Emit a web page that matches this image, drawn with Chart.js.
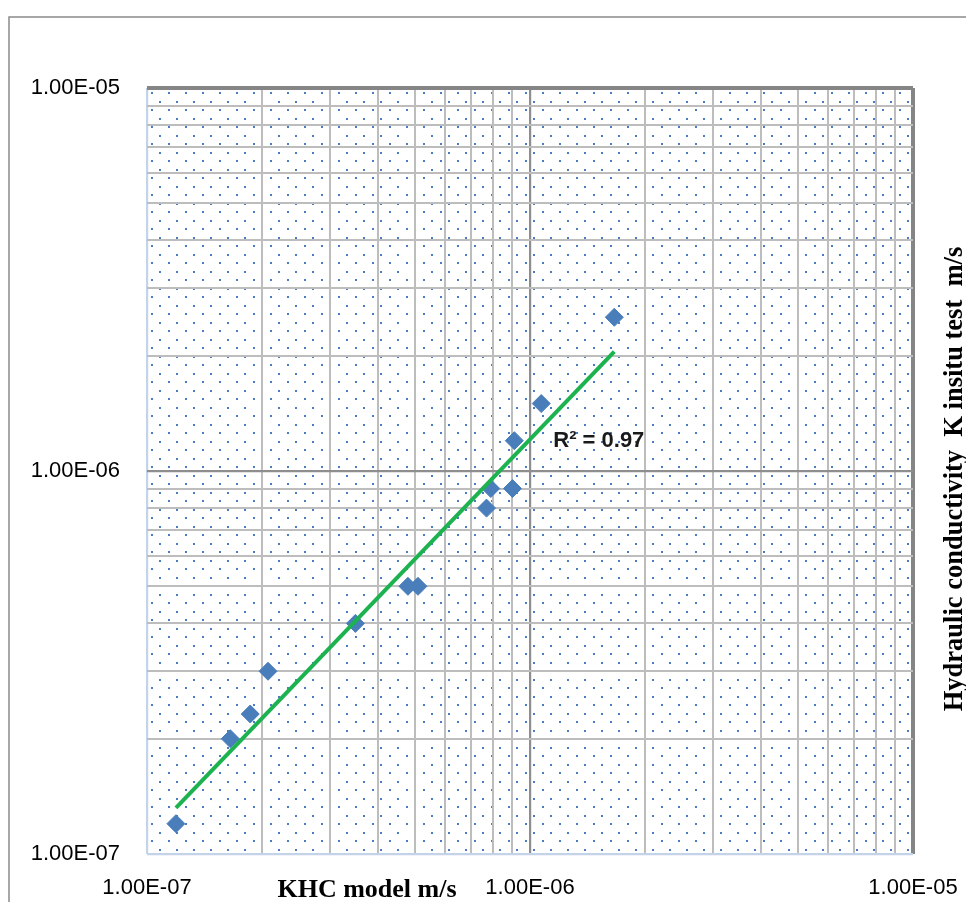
<!DOCTYPE html>
<html>
<head>
<meta charset="utf-8">
<title>KHC model vs K insitu test</title>
<script src="https://cdn.jsdelivr.net/npm/chart.js@4.4.1/dist/chart.umd.min.js"></script>
<style>
  html, body { margin: 0; padding: 0; background: #ffffff; }
  #wrap { position: relative; width: 966px; height: 902px; }
</style>
</head>
<body>
<div id="wrap">
  <canvas id="khcChart" width="966" height="902"></canvas>
</div>
<script>
// measured points: KHC model (x) vs K insitu test (y), m/s
const khcModel = [1.19e-7, 1.65e-7, 1.86e-7, 2.07e-7, 3.5e-7, 4.8e-7, 5.1e-7, 7.7e-7, 7.9e-7, 9.0e-7, 9.1e-7, 1.07e-6, 1.66e-6];
const kInsitu  = [1.2e-7, 2.0e-7, 2.32e-7, 3.0e-7, 4.0e-7, 5.0e-7, 5.0e-7, 8.0e-7, 9.0e-7, 9.0e-7, 1.2e-6, 1.5e-6, 2.52e-6];

// power trendline ends as drawn in the original
const trendX = [1.19e-7, 1.66e-6];
const trendY = [1.32e-7, 2.05e-6];
const r2Text = 'R\u00B2 = 0.97';
const r2Pos = {x: 1.15e-6, y: 1.2e-6};

// axes
const axisMin = 1e-7;
const axisMax = 1e-5;
const decadeTicks = [1e-7, 1e-6, 1e-5];
const decadeLabels = ['1.00E-07', '1.00E-06', '1.00E-05'];
const gridTicks = [
  1e-7, 2e-7, 3e-7, 4e-7, 5e-7, 6e-7, 7e-7, 8e-7, 9e-7,
  1e-6, 2e-6, 3e-6, 4e-6, 5e-6, 6e-6, 7e-6, 8e-6, 9e-6,
  1e-5
];
const xTitle = 'KHC model m/s';
const yTitle = 'Hydraulic conductivity  K insitu test  m/s';

const points = khcModel.map((v, i) => ({x: v, y: kInsitu[i]}));
const trend = trendX.map((v, i) => ({x: v, y: trendY[i]}));

function isDecade(v) {
  return decadeTicks.some(d => Math.abs(v - d) / d < 1e-6);
}
function decadeLabel(v) {
  const i = decadeTicks.findIndex(d => Math.abs(v - d) / d < 1e-6);
  return i >= 0 ? decadeLabels[i] : '';
}

// grid colours like the excel plot area: blue-ish low edge, dark top/right edge
function gridColor(ctx) {
  const v = ctx.tick ? ctx.tick.value : 0;
  if (Math.abs(v - axisMin) / axisMin < 1e-6) return '#c3d3ea';
  if (Math.abs(v - axisMax) / axisMax < 1e-6) return '#858585';
  if (isDecade(v)) return '#8e8e8e';
  return '#bdbdbd';
}
function gridWidth(ctx) {
  const v = ctx.tick ? ctx.tick.value : 0;
  if (Math.abs(v - axisMax) / axisMax < 1e-6) return 4;
  if (isDecade(v)) return 2.2;
  return 2;
}

function setTicks(scale) {
  scale.ticks = gridTicks.map(v => ({value: v, major: isDecade(v)}));
}

// dotted fill of the plot area
function makeDots(ctx) {
  const tile = document.createElement('canvas');
  tile.width = 17;
  tile.height = 17;
  const t = tile.getContext('2d');
  t.fillStyle = '#4a7cc6';
  t.fillRect(4, 4, 2, 2);
  t.fillRect(12, 13, 2, 2);
  return ctx.createPattern(tile, 'repeat');
}

const decorPlugin = {
  id: 'decor',
  beforeDraw(chart) {
    const {ctx, chartArea} = chart;
    ctx.save();
    ctx.fillStyle = '#ffffff';
    ctx.fillRect(0, 0, chart.width, chart.height);
    // outer frame, only left and top visible
    ctx.strokeStyle = '#8a8a8a';
    ctx.lineWidth = 1.5;
    ctx.beginPath();
    ctx.moveTo(9, chart.height + 2);
    ctx.lineTo(9, 17);
    ctx.lineTo(chart.width + 2, 17);
    ctx.stroke();
    // dots
    ctx.translate(chartArea.left, chartArea.top);
    ctx.fillStyle = makeDots(ctx);
    ctx.fillRect(0, 0, chartArea.right - chartArea.left, chartArea.bottom - chartArea.top);
    ctx.restore();
  },
  afterDraw(chart) {
    const {ctx, scales} = chart;
    ctx.save();
    ctx.fillStyle = '#000000';
    // x title sits on the tick label row
    ctx.font = 'bold 26px "Liberation Serif", "Times New Roman", serif';
    ctx.textAlign = 'center';
    ctx.textBaseline = 'alphabetic';
    ctx.fillText(xTitle, 367, 897);
    // y title on the right, reading upwards
    ctx.translate(955, 479);
    ctx.rotate(-Math.PI / 2);
    ctx.textBaseline = 'middle';
    ctx.font = 'bold 26.5px "Liberation Serif", "Times New Roman", serif';
    ctx.fillText(yTitle, 0, 0);
    ctx.restore();
    // R squared label
    ctx.save();
    ctx.fillStyle = '#1a1a1a';
    ctx.font = 'bold 22px "Liberation Sans", Arial, sans-serif';
    ctx.textAlign = 'left';
    ctx.textBaseline = 'middle';
    ctx.fillText(r2Text, scales.x.getPixelForValue(r2Pos.x), scales.y.getPixelForValue(r2Pos.y));
    ctx.restore();
  }
};

Chart.register(decorPlugin);

const ctx = document.getElementById('khcChart').getContext('2d');
const khcChart = new Chart(ctx, {
  type: 'scatter',
  data: {
    datasets: [
      {
        label: 'Power trend',
        data: trend,
        showLine: true,
        borderColor: '#1db250',
        borderWidth: 4,
        pointRadius: 0,
        order: 0
      },
      {
        label: 'K',
        data: points,
        pointStyle: 'rectRot',
        pointRadius: 9,
        backgroundColor: '#4a7ebb',
        borderColor: '#4a7ebb',
        borderWidth: 1,
        order: 1
      }
    ]
  },
  options: {
    responsive: false,
    animation: false,
    devicePixelRatio: 1,
    layout: {padding: {left: 0, top: 88, right: 53, bottom: 0}},
    plugins: {
      legend: {display: false},
      tooltip: {enabled: false}
    },
    scales: {
      x: {
        type: 'logarithmic',
        min: axisMin,
        max: axisMax,
        afterBuildTicks: setTicks,
        afterFit(scale) {
          scale.height = 48;
          // labels are allowed to hang into the layout padding
          scale.paddingLeft = 0;
          scale.paddingRight = 0;
        },
        border: {display: false},
        grid: {color: gridColor, lineWidth: gridWidth, drawTicks: false},
        ticks: {
          autoSkip: false,
          maxRotation: 0,
          padding: 21,
          color: '#000000',
          font: {family: '"Liberation Sans", Arial, sans-serif', size: 22},
          callback: v => decadeLabel(v)
        }
      },
      y: {
        type: 'logarithmic',
        min: axisMin,
        max: axisMax,
        afterBuildTicks: setTicks,
        afterFit(scale) { scale.width = 147; },
        border: {display: false},
        grid: {color: gridColor, lineWidth: gridWidth, drawTicks: false},
        ticks: {
          autoSkip: false,
          padding: 27,
          color: '#000000',
          font: {family: '"Liberation Sans", Arial, sans-serif', size: 22},
          callback: v => decadeLabel(v)
        }
      }
    }
  }
});
</script>
</body>
</html>
